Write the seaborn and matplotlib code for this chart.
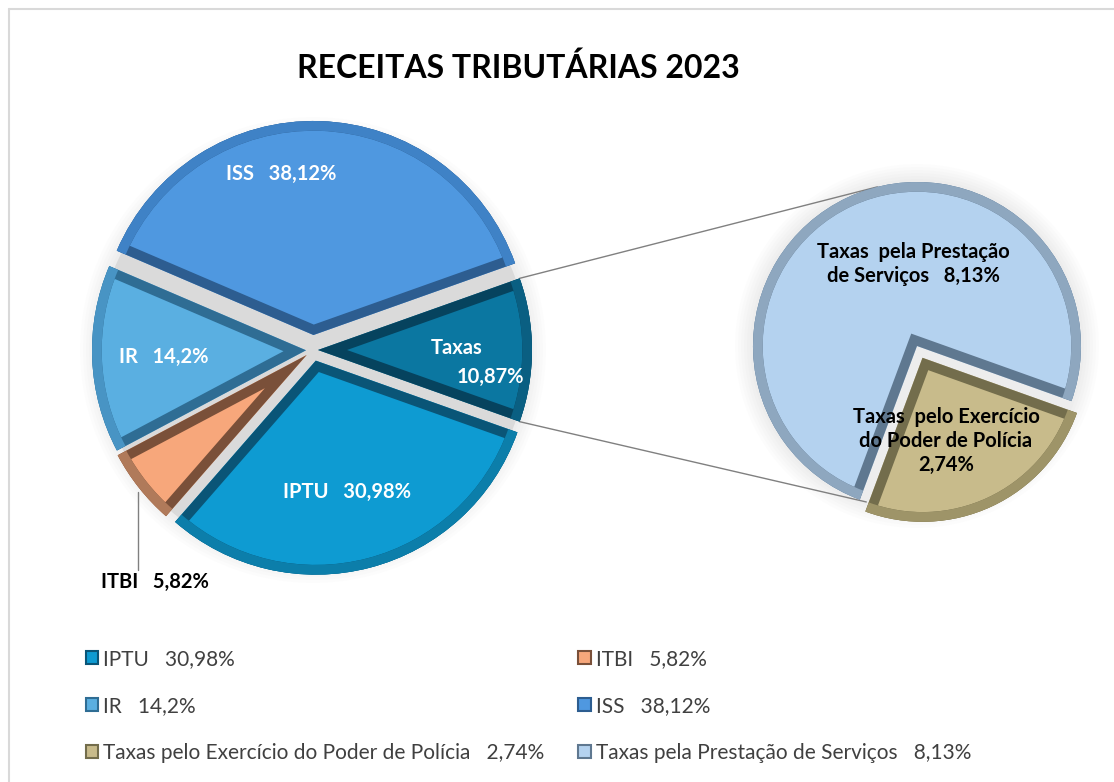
import matplotlib
matplotlib.use("Agg")
import matplotlib.pyplot as plt
import matplotlib.patches as mpatches
import numpy as np
import seaborn as sns

# --- data (percent of total tax revenue, 2023) ---
main_labels = ["Taxas", "ISS", "IR", "ITBI", "IPTU"]
main_values = [10.87, 38.12, 14.2, 5.82, 30.98]
sub_labels = ["Taxas pelo Exercício do Poder de Polícia", "Taxas pela Prestação de Serviços"]
sub_values = [2.74, 8.13]

main_colors = ["#0b77a1", "#4f98e0", "#5aafe1", "#f7a77b", "#0e9bd2"]
main_edges = ["#06435e", "#2d5d90", "#2f6d94", "#7a5039", "#0a5577"]
main_rims = ["#0a5f82", "#3f82c6", "#4894c4", "#b07a5a", "#0c7eaa"]
sub_colors = ["#c8bb8b", "#b4d2ef"]
sub_edges = ["#736d4c", "#5f7890"]
sub_rims = ["#9e9468", "#8ea7bf"]

W, H = 1114, 782


def pct(v):
    return f"{v:g}".replace(".", ",") + "%"


sns.set_theme(style="white")
plt.rcParams["font.family"] = ["Lato", "DejaVu Sans"]

fig = plt.figure(figsize=(W / 100, H / 100), dpi=100)
ax = fig.add_axes([0, 0, 1, 1])

# main pie
mc, mr = (313, H - 350), 214
ax.add_patch(mpatches.Circle(mc, mr, color="#e6e6e6", zorder=0))
for k in range(6):
    ax.add_patch(mpatches.Circle(mc, mr + 4 + 3 * k, color="#808080", alpha=0.02, lw=0, zorder=0))
start = -main_values[0] / sum(main_values) * 180
wedges, _ = ax.pie(main_values, explode=[5, 15, 7, 8, 11], center=mc, radius=mr,
                   startangle=start, colors=main_colors, counterclock=True,
                   wedgeprops=dict(linewidth=0), frame=True)

# secondary pie (breakdown of Taxas)
sc, sr = (917, H - 346), 164
for k in range(6):
    ax.add_patch(mpatches.Circle(sc, sr + 3 + 3 * k, color="#808080", alpha=0.02, lw=0, zorder=0))
sub_wedges, _ = ax.pie(sub_values, explode=[13, 0], center=sc, radius=sr,
                       startangle=-110.4, colors=sub_colors, counterclock=True,
                       wedgeprops=dict(linewidth=0), frame=True)

# bevel look: dark stroke on the radial sides, lighter rim on the arc, clipped to the wedge
pairs = list(zip(wedges, main_edges, main_rims)) + list(zip(sub_wedges, sub_edges, sub_rims))
for w, ec, rc in pairs:
    b = mpatches.Wedge(w.center, w.r, w.theta1, w.theta2, fc="none", ec=ec, lw=14,
                       joinstyle="miter", zorder=w.get_zorder() + 0.1)
    ax.add_patch(b)
    b.set_clip_path(w)
    rim = mpatches.Arc(w.center, 2 * w.r, 2 * w.r, theta1=w.theta1, theta2=w.theta2,
                       color=rc, lw=14, zorder=w.get_zorder() + 0.2)
    ax.add_patch(rim)
    rim.set_clip_path(w)

# connector lines from Taxas slice to secondary pie
t = wedges[0]
for th_main, th_sub in [(t.theta2, 104), (t.theta1, 252)]:
    p0 = (t.center[0] + t.r * np.cos(np.radians(th_main)), t.center[1] + t.r * np.sin(np.radians(th_main)))
    p1 = (sc[0] + sr * np.cos(np.radians(th_sub)), sc[1] + sr * np.sin(np.radians(th_sub)))
    ax.plot([p0[0], p1[0]], [p0[1], p1[1]], color="#808080", lw=1, zorder=1)

ax.set_xlim(0, W)
ax.set_ylim(0, H)
ax.set_aspect("equal")
ax.axis("off")

# data labels
lab = dict(fontsize=14.5, fontweight="bold", ha="center", va="center", zorder=5)
ax.text(281, H - 174, f"{main_labels[1]}   {pct(main_values[1])}", color="white", **lab)
ax.text(164, H - 357, f"{main_labels[2]}   {pct(main_values[2])}", color="white", **lab)
ax.text(347, H - 492, f"{main_labels[4]}   {pct(main_values[4])}", color="white", **lab)
ax.text(457, H - 348, main_labels[0], color="white", **lab)
ax.text(490, H - 377, pct(main_values[0]), color="white", **lab)
ax.text(155, H - 582, f"{main_labels[3]}   {pct(main_values[3])}", color="black", **lab)
ax.plot([138, 138], [H - 492, H - 570], color="#808080", lw=1, zorder=1)
ax.text(913, H - 264, f"Taxas  pela Prestação\nde Serviços   {pct(sub_values[1])}",
        color="black", linespacing=1.25, **lab)
ax.text(946, H - 441, f"Taxas  pelo Exercício\ndo Poder de Polícia\n{pct(sub_values[0])}",
        color="black", linespacing=1.25, **lab)

fig.text(518 / W, 1 - 68 / H, "RECEITAS TRIBUTÁRIAS 2023", ha="center", va="center",
         fontsize=23, fontweight="bold", color="black")

# chart frame (top/left visible)
fig.add_artist(plt.Line2D([8.5 / W, 8.5 / W], [0, 1 - 9 / H], transform=fig.transFigure, color="#d9d9d9", lw=1.5))
fig.add_artist(plt.Line2D([8.5 / W, 1], [1 - 9 / H, 1 - 9 / H], transform=fig.transFigure, color="#d9d9d9", lw=1.5))

# legend (column-major order to match layout)
order = [(main_labels[4], main_values[4], main_colors[4], main_edges[4]),
         (main_labels[2], main_values[2], main_colors[2], main_edges[2]),
         (sub_labels[0], sub_values[0], sub_colors[0], sub_edges[0]),
         (main_labels[3], main_values[3], main_colors[3], main_edges[3]),
         (main_labels[1], main_values[1], main_colors[1], main_edges[1]),
         (sub_labels[1], sub_values[1], sub_colors[1], sub_edges[1])]
handles = [mpatches.Patch(facecolor=c, edgecolor=e, lw=1.5) for _, _, c, e in order]
texts = [f"{n}   {pct(v)}" for n, v, _, _ in order]
fig.legend(handles, texts, ncol=2, loc="upper left", bbox_to_anchor=(67 / W, 1 - 630 / H),
           frameon=False, fontsize=15, labelcolor="#404040", handlelength=0.6,
           handleheight=0.6, handletextpad=0.25, labelspacing=1.3, columnspacing=1.6)

fig.savefig("out.png", dpi=100)
